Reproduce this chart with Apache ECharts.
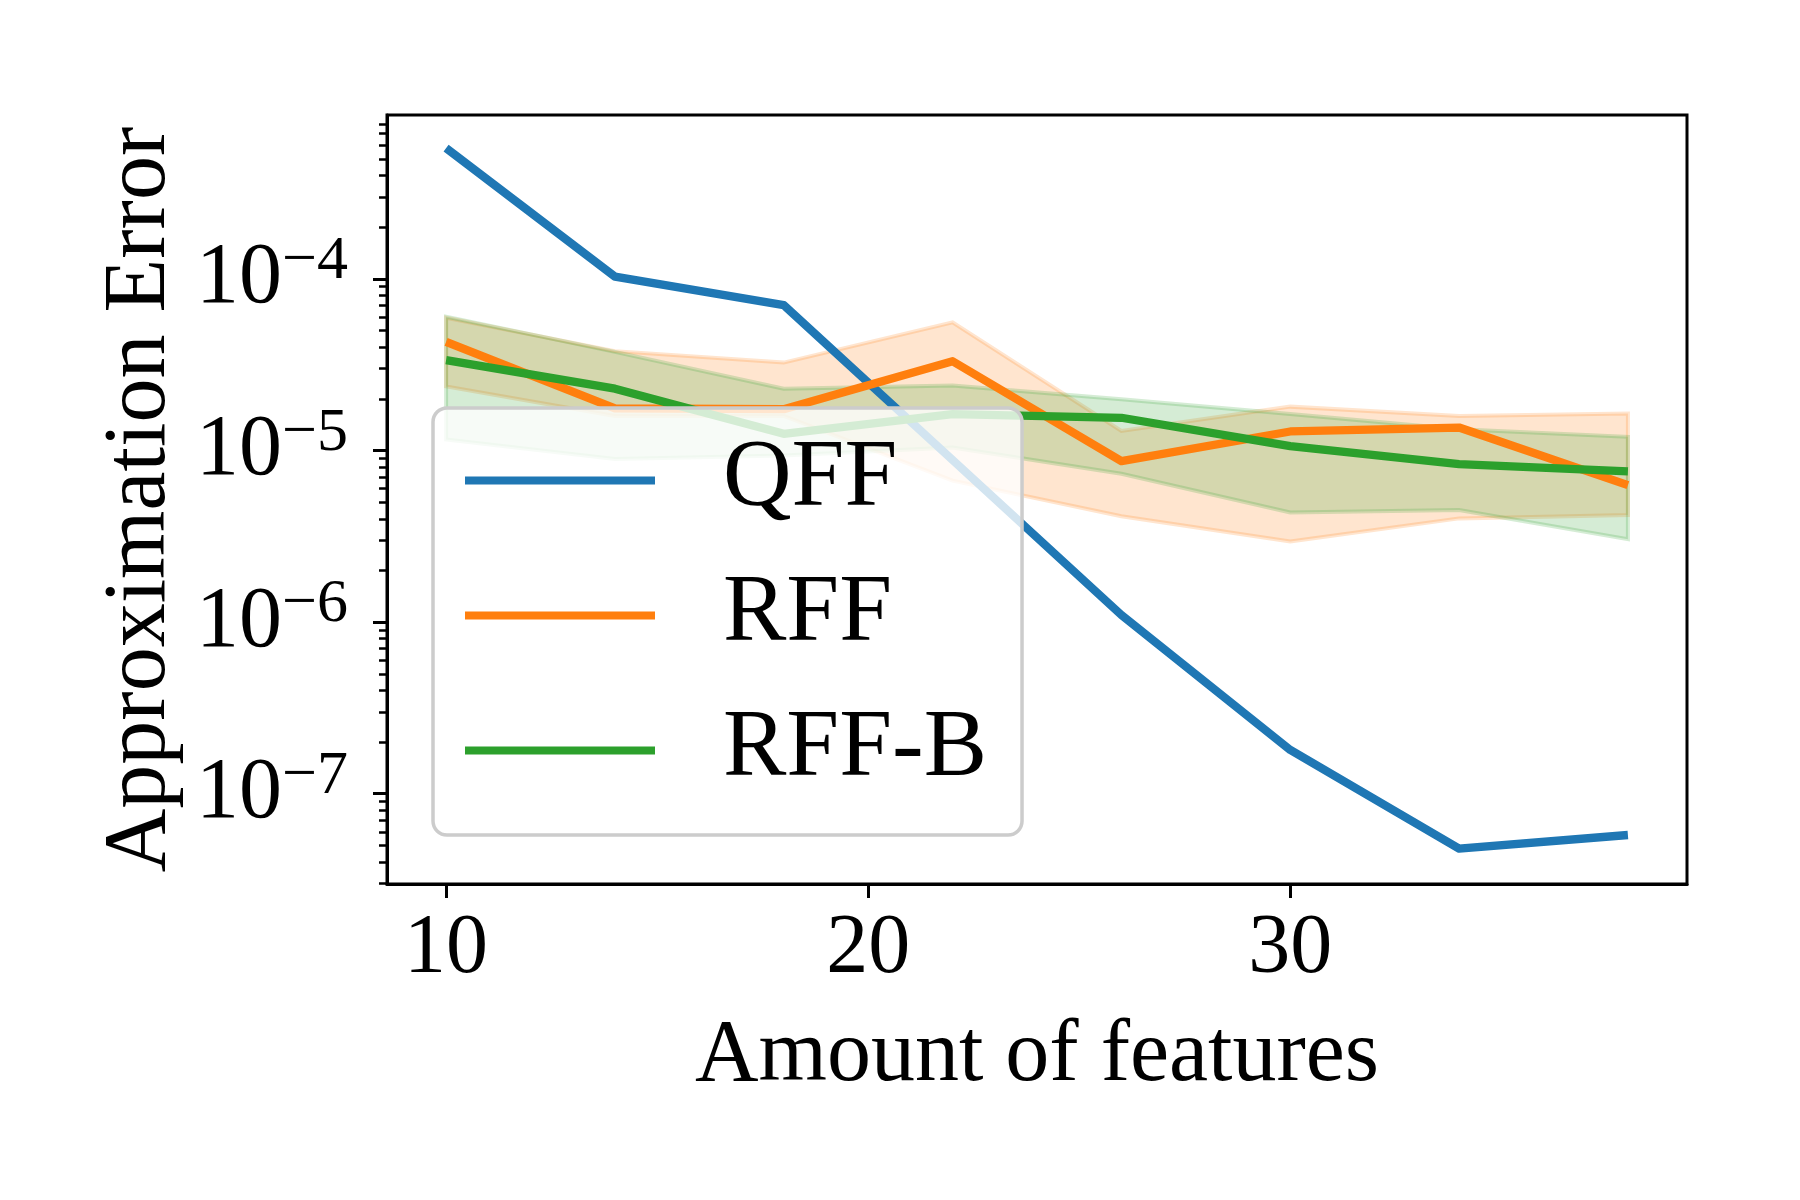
<!DOCTYPE html>
<html>
<head>
<meta charset="utf-8">
<script src="https://cdn.jsdelivr.net/npm/echarts@6/dist/echarts.min.js"></script>
<style>
  html, body { margin: 0; padding: 0; background: #fff; }
  #chart { width: 1800px; height: 1200px; }
</style>
</head>
<body>
<div id="chart"></div>
<script>
// values (log y axis)
var features = [10, 14, 18, 22, 26, 30, 34, 38];
var qff      = [5.77e-4, 1.03e-4, 7.02e-5, 8.8e-6, 1.10e-6, 1.80e-7, 4.79e-8, 5.75e-8];
var rff      = [4.29e-5, 1.76e-5, 1.74e-5, 3.31e-5, 8.67e-6, 1.29e-5, 1.36e-5, 6.28e-6];
var rffLow   = [2.36e-5, 1.59e-5, 1.59e-5, 6.67e-6, 4.14e-6, 2.95e-6, 4.02e-6, 4.21e-6];
var rffHigh  = [5.93e-5, 3.79e-5, 3.25e-5, 5.57e-5, 1.30e-5, 1.80e-5, 1.59e-5, 1.64e-5];
var rffb     = [3.36e-5, 2.29e-5, 1.25e-5, 1.63e-5, 1.55e-5, 1.06e-5, 8.32e-6, 7.55e-6];
var rffbLow  = [1.16e-5, 8.93e-6, 9.35e-6, 1.04e-5, 7.31e-6, 4.35e-6, 4.5e-6, 3.04e-6];
var rffbHigh = [6.02e-5, 3.75e-5, 2.29e-5, 2.39e-5, 1.99e-5, 1.63e-5, 1.33e-5, 1.20e-5];

var xTicks = [10, 20, 30];
var yTickExps = [-7, -6, -5, -4];
var yMinorMult = [2, 3, 4, 5, 6, 7, 8, 9];
var yMin = 2.98e-8, yMax = 9.0e-4;

var FONT = 'Liberation Serif';
var C_BLUE = '#1f77b4', C_ORANGE = '#ff7f0e', C_GREEN = '#2ca02c';

function pairs(ys) {
  return features.map(function (x, i) { return [x, ys[i]]; });
}

// shaded band between two arrays, drawn as one polygon through the axes
function band(name, low, high, rgb) {
  return {
    name: name,
    type: 'custom',
    z: 1,
    silent: true,
    encode: { x: 0, y: [1, 2] },
    data: features.map(function (x, i) { return [x, low[i], high[i]]; }),
    renderItem: function (params, api) {
      if (params.dataIndex !== 0) return;
      var pts = [];
      for (var i = 0; i < features.length; i++) pts.push(api.coord([features[i], high[i]]));
      for (var j = features.length - 1; j >= 0; j--) pts.push(api.coord([features[j], low[j]]));
      return {
        type: 'polygon',
        shape: { points: pts },
        style: { fill: 'rgba(' + rgb + ',0.2)', stroke: 'rgba(' + rgb + ',0.2)', lineWidth: 4 }
      };
    }
  };
}

function line(name, ys, color) {
  return {
    name: name,
    type: 'line',
    z: 3,
    data: pairs(ys),
    showSymbol: false,
    symbol: 'none',
    lineStyle: { color: color, width: 8.3, join: 'round' },
    itemStyle: { color: color }
  };
}

var minorTicks = [];
for (var e = -8; e <= -4; e++) {
  yMinorMult.forEach(function (m) {
    var v = m * Math.pow(10, e);
    if (v > yMin && v < yMax) minorTicks.push(Math.log10(v));
  });
}

var myChart = echarts.init(document.getElementById('chart'));

var option = {
  animation: false,
  backgroundColor: '#fff',
  grid: {
    left: 387, top: 115, width: 1300, height: 769,
    outerBoundsMode: 'none',
    containLabel: false,
    show: true, borderColor: '#000', borderWidth: 3, backgroundColor: 'transparent'
  },
  legend: {
    data: ['QFF', 'RFF', 'RFF-B'],
    orient: 'vertical',
    left: 433, top: 408,
    padding: [25, 35, 37, 32],
    itemWidth: 190, itemHeight: 8, itemGap: 40,
    icon: 'rect',
    backgroundColor: 'rgba(255,255,255,0.8)',
    borderColor: '#cccccc', borderWidth: 3.5, borderRadius: 14,
    textStyle: { fontFamily: FONT, fontSize: 95, lineHeight: 95, color: '#000', padding: [0, 0, 0, 63] }
  },
  xAxis: {
    type: 'value',
    min: 8.6, max: 39.4,
    name: 'Amount of features',
    nameLocation: 'middle',
    nameGap: 129,
    nameTextStyle: { fontFamily: FONT, fontSize: 88, color: '#000' },
    axisLine: { show: true, lineStyle: { color: '#000', width: 3 } },
    axisTick: { show: true, length: 14, customValues: xTicks, lineStyle: { color: '#000', width: 3 } },
    axisLabel: { customValues: xTicks, margin: 24, fontFamily: FONT, fontSize: 84, color: '#000' },
    splitLine: { show: false }
  },
  yAxis: [
    {
      type: 'log', logBase: 10,
      position: 'left',
      min: yMin, max: yMax,
      axisLine: { show: true, lineStyle: { color: '#000', width: 3 } },
      axisTick: { show: false },
      axisLabel: { show: false },
      splitLine: { show: false },
      minorTick: { show: false }
    },
    {
      type: 'value',
      position: 'left',
      offset: 0,
      min: Math.log10(yMin), max: Math.log10(yMax),
      name: 'Approximation Error',
      nameLocation: 'middle',
      nameGap: 201,
      nameTextStyle: { fontFamily: FONT, fontSize: 88, color: '#000' },
      axisLine: { show: false },
      axisTick: { show: true, length: 14, customValues: yTickExps, lineStyle: { color: '#000', width: 3 } },
      axisLabel: {
        customValues: yTickExps,
        margin: 39,
        padding: [0, 0, 10, 0],
        formatter: function (v) { return '{b|10}{s|\u2212' + Math.round(-v) + '}'; },
        rich: {
          b: { fontFamily: FONT, fontSize: 86, lineHeight: 86, color: '#000', padding: [12, 0, 0, 0] },
          s: { fontFamily: FONT, fontSize: 62, lineHeight: 62, color: '#000', verticalAlign: 'top' }
        }
      },
      splitLine: { show: false }
    },
    {
      type: 'value',
      position: 'left',
      offset: 0,
      min: Math.log10(yMin), max: Math.log10(yMax),
      axisLine: { show: false },
      axisTick: { show: true, length: 8, customValues: minorTicks, lineStyle: { color: '#000', width: 2.5 } },
      axisLabel: { show: false },
      splitLine: { show: false }
    }
  ],
  series: [
    band('RFF band', rffLow, rffHigh, '255,127,14'),
    band('RFF-B band', rffbLow, rffbHigh, '44,160,44'),
    line('QFF', qff, C_BLUE),
    line('RFF', rff, C_ORANGE),
    line('RFF-B', rffb, C_GREEN)
  ]
};

myChart.setOption(option, true);
</script>
</body>
</html>
